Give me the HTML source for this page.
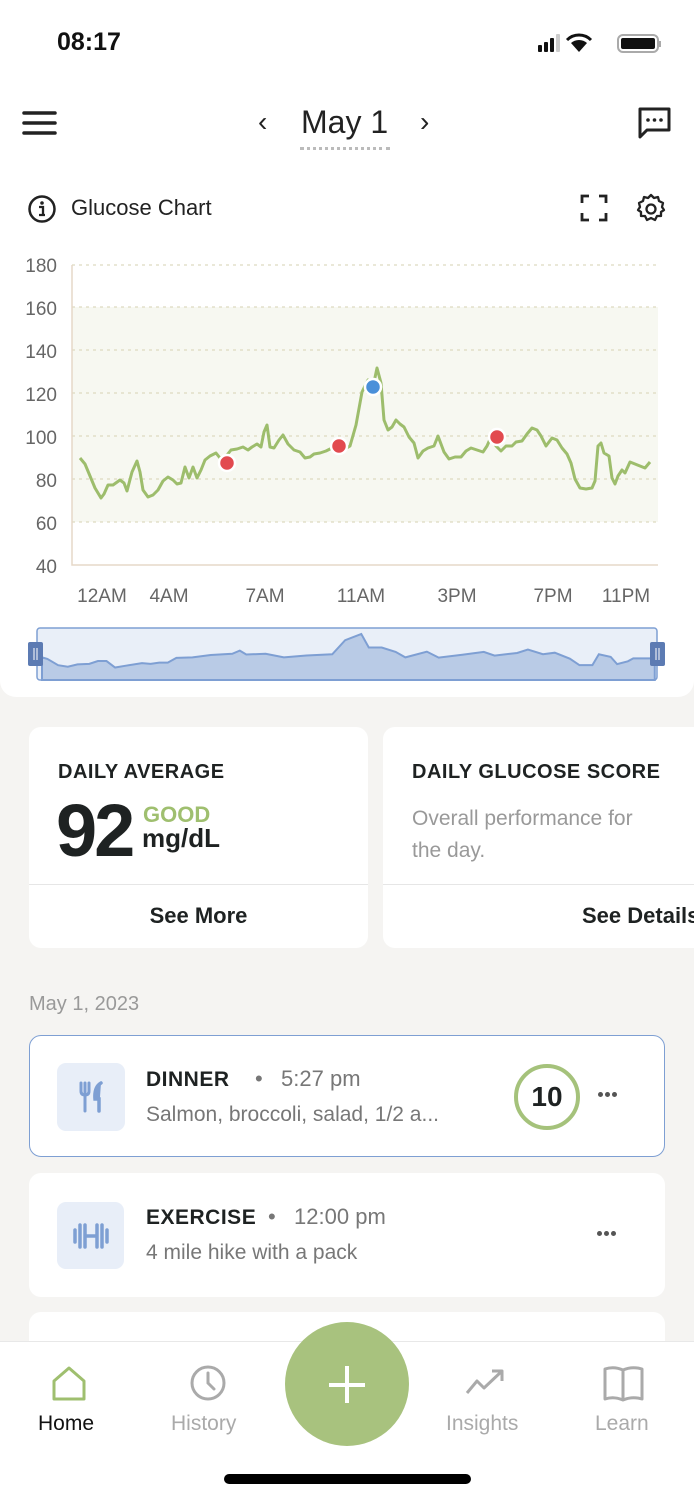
<!DOCTYPE html>
<html><head><meta charset="utf-8"><style>
*{margin:0;padding:0;box-sizing:border-box}
body{width:694px;height:1500px;background:#f5f4f2;font-family:"Liberation Sans",sans-serif;position:relative;overflow:hidden;color:#1e2222}
.a{position:absolute}
.card{position:absolute;background:#fff;border-radius:12px}
.dots{position:absolute;width:22px;height:6px}
.dots i{position:absolute;top:0;width:5px;height:5px;border-radius:50%;background:#555}
</style></head><body>
<div class="a" style="left:0;top:0;width:694px;height:697px;background:#fff;border-radius:0 0 16px 16px"></div>
<div class="a" style="left:57px;top:28px;font-size:25px;font-weight:bold;color:#111">08:17</div>
<svg class="a" style="left:536px;top:32px" width="128" height="24">
<rect x="2" y="13" width="4" height="7" rx="1" fill="#111"/><rect x="8" y="10" width="4" height="10" rx="1" fill="#111"/><rect x="14" y="6" width="4" height="14" rx="1" fill="#111"/><rect x="20" y="2" width="4" height="18" rx="1" fill="#ccc"/>
<path d="M43 20 L35 11 A12 12 0 0 1 51 11 Z" fill="#111"/><path d="M31 8 A17 17 0 0 1 55 8" stroke="#111" stroke-width="3" fill="none"/>
<rect x="82" y="3" width="40" height="17" rx="5" fill="none" stroke="#aaa" stroke-width="2"/><rect x="85" y="6" width="34" height="11" rx="2" fill="#111"/><rect x="123" y="9" width="2" height="6" fill="#aaa"/>
</svg>
<svg class="a" style="left:22px;top:110px" width="36" height="26"><path d="M2 3H33M2 13H33M2 23H33" stroke="#222" stroke-width="3.5" stroke-linecap="round"/></svg>
<div class="a" style="left:258px;top:106px;font-size:28px;color:#222">‹</div>
<div class="a" style="left:301px;top:104px;font-size:32px;color:#222">May 1</div>
<div class="a" style="left:300px;top:147px;width:90px;border-top:3px dotted #bbb"></div>
<div class="a" style="left:420px;top:106px;font-size:28px;color:#222">›</div>
<svg class="a" style="left:637px;top:106px" width="36" height="34"><path d="M3 3H32V24H10L3 31Z" fill="none" stroke="#222" stroke-width="3" stroke-linejoin="round"/><circle cx="11" cy="14" r="1.8" fill="#222"/><circle cx="17.5" cy="14" r="1.8" fill="#222"/><circle cx="24" cy="14" r="1.8" fill="#222"/></svg>
<svg class="a" style="left:27px;top:195px" width="30" height="30"><circle cx="15" cy="14" r="12.5" fill="none" stroke="#222" stroke-width="2.5"/><circle cx="15" cy="8" r="1.8" fill="#222"/><path d="M12 12H16V20M12 20H18" stroke="#222" stroke-width="2.3" fill="none"/></svg>
<div class="a" style="left:71px;top:195px;font-size:22px;color:#222">Glucose Chart</div>
<svg class="a" style="left:580px;top:194px" width="28" height="28"><path d="M2 9V2H9M19 2H26V9M26 19V26H19M9 26H2V19" stroke="#222" stroke-width="2.8" fill="none"/></svg>
<svg class="a" style="left:636px;top:193px" width="30" height="30"><path d="M15 2l3 3 4-1 1 4 4 2-1 4 2 3-3 2 0 4-4 0-2 4-4-2-4 2-2-4-4 0 0-4-3-2 2-3-1-4 4-2 1-4 4 1z" fill="none" stroke="#222" stroke-width="2.3" stroke-linejoin="round"/><circle cx="15" cy="16" r="4.5" fill="none" stroke="#222" stroke-width="2.3"/></svg>

<svg class="a" style="left:0;top:0" width="694" height="700" font-family="Liberation Sans, sans-serif">
<rect x="72" y="307" width="586" height="215" fill="#f7f8f1"/>
<g stroke="#ddd9c0" stroke-width="1.3" stroke-dasharray="3 4">
<line x1="72" y1="265" x2="658" y2="265"/><line x1="72" y1="307" x2="658" y2="307"/><line x1="72" y1="350" x2="658" y2="350"/><line x1="72" y1="393" x2="658" y2="393"/><line x1="72" y1="436" x2="658" y2="436"/><line x1="72" y1="479" x2="658" y2="479"/><line x1="72" y1="522" x2="658" y2="522"/>
</g>
<path d="M72 265V565H658" stroke="#e6d8c8" stroke-width="1.5" fill="none"/>
<g fill="#666" font-size="19" text-anchor="end">
<text x="57" y="272">180</text><text x="57" y="315">160</text><text x="57" y="358">140</text><text x="57" y="401">120</text><text x="57" y="444">100</text><text x="57" y="487">80</text><text x="57" y="530">60</text><text x="57" y="573">40</text>
</g>
<g fill="#666" font-size="19" text-anchor="middle">
<text x="102" y="602">12AM</text><text x="169" y="602">4AM</text><text x="265" y="602">7AM</text><text x="361" y="602">11AM</text><text x="457" y="602">3PM</text><text x="553" y="602">7PM</text><text x="626" y="602">11PM</text>
</g>
<defs><path id="ser" d="M80 458L85 464L90 476L95 488L101 498L104 494L108 485L113 485L120 480L124 483L127 491L132 472L137 461L140 472L143 490L148 497L153 495L158 490L163 481L168 477L173 480L177 484L181 483L185 467L189 478L193 467L197 478L201 470L205 460L210 456L216 453L220 458L227 455L231 450L237 449L243 447L248 450L252 447L257 444L261 447L264 432L267 425L270 447L274 448L279 440L283 435L288 444L294 450L300 452L305 458L310 457L314 454L320 453L326 451L332 448L339 446L345 449L350 446L356 425L362 392L368 380L373 387L377 368L381 383L384 420L388 430L392 427L396 420L400 424L404 427L409 437L414 443L418 458L423 451L428 448L434 446L438 436L444 452L449 459L455 457L461 457L466 451L471 448L477 450L483 452L487 446L491 437L496 446L501 451L506 446L512 446L516 442L522 441L527 434L532 428L537 430L541 436L546 446L552 438L557 440L562 448L567 454L571 463L575 479L580 488L586 489L592 488L595 481L598 446L601 443L604 453L609 456L612 478L615 484L618 476L622 470L625 473L630 462L635 464L640 466L645 468L650 462"/></defs>
<use href="#ser" fill="none" stroke="#9dbd6c" stroke-width="3" stroke-linejoin="round"/>
<g stroke="#fff" stroke-width="2.5">
<circle cx="227" cy="463" r="8" fill="#e24a4f"/><circle cx="339" cy="446" r="8" fill="#e24a4f"/><circle cx="497" cy="437" r="8" fill="#e24a4f"/><circle cx="373" cy="387" r="8" fill="#4a90d9"/>
</g>
<rect x="37" y="628" width="620" height="52" rx="3" fill="#e9eff8" stroke="#7e9fd3" stroke-width="1.5"/>
<g transform="matrix(1.075 0 0 0.26 -44 538.3)">
<path d="M80 545L80 458L85 464L95 488L104 494L113 485L124 483L132 472L140 472L148 497L158 490L173 480L181 483L189 478L197 478L205 460L220 458L237 449L257 444L264 432L270 447L288 444L305 458L326 451L350 446L362 392L377 368L384 420L396 420L409 437L418 458L438 436L449 459L471 448L491 437L501 451L522 441L532 428L546 446L557 440L571 463L580 488L592 488L598 446L609 456L615 484L625 473L630 462L650 462L650 545Z" fill="#b9cbe6" stroke="#7e9fd3" stroke-width="2" vector-effect="non-scaling-stroke"/>
</g>
<rect x="28" y="642" width="15" height="24" rx="2" fill="#5c7bb3"/><rect x="650" y="642" width="15" height="24" rx="2" fill="#5c7bb3"/>
<path d="M34 648V660M37 648V660M656 648V660M659 648V660" stroke="#fff" stroke-width="1"/>
</svg>

<div class="card" style="left:29px;top:727px;width:339px;height:221px">
<div class="a" style="left:29px;top:34px;font-size:20px;font-weight:bold;letter-spacing:0.5px">DAILY AVERAGE</div>
<div class="a" style="left:27px;top:61px;font-size:74px;font-weight:bold;letter-spacing:-3px">92</div>
<div class="a" style="left:114px;top:75px;font-size:22px;font-weight:bold;color:#9fbf6f">GOOD</div>
<div class="a" style="left:113px;top:96px;font-size:26px;font-weight:bold">mg/dL</div>
<div class="a" style="left:0;top:157px;width:339px;border-top:1px solid #e6e6e6"></div>
<div class="a" style="left:0;top:176px;width:339px;text-align:center;font-size:22px;font-weight:bold">See More</div>
</div>
<div class="card" style="left:383px;top:727px;width:340px;height:221px">
<div class="a" style="left:29px;top:34px;font-size:20px;font-weight:bold;letter-spacing:0.5px;white-space:nowrap">DAILY GLUCOSE SCORE</div>
<div class="a" style="left:29px;top:76px;font-size:21px;color:#999;line-height:32px;width:250px">Overall performance for the day.</div>
<div class="a" style="left:0;top:157px;width:340px;border-top:1px solid #e6e6e6"></div>
<div class="a" style="left:199px;top:176px;font-size:22px;font-weight:bold;white-space:nowrap">See Details</div>
</div>
<div class="a" style="left:29px;top:993px;font-size:20px;color:#999">May 1, 2023</div>

<div class="card" style="left:29px;top:1035px;width:636px;height:122px;border:1.5px solid #7e9fd3">
<div class="a" style="left:27px;top:27px;width:68px;height:68px;border-radius:9px;background:#e8eef8"></div>
<svg class="a" style="left:48px;top:45px" width="28" height="32"><path d="M3 2V10Q3 14 7 14V30M7 2V12M11 2V10Q11 14 7 14" stroke="#7e9fd3" stroke-width="3" fill="none" stroke-linecap="round"/><path d="M23 2Q16 6 17 18H21V30" stroke="#7e9fd3" stroke-width="3.5" fill="#7e9fd3" stroke-linecap="round"/></svg>
<div class="a" style="left:116px;top:32px;font-size:21px;font-weight:bold;letter-spacing:0.5px">DINNER</div>
<div class="a" style="left:225px;top:30px;font-size:22px;color:#777">•&nbsp;&nbsp;&nbsp;5:27 pm</div>
<div class="a" style="left:116px;top:67px;font-size:21px;color:#777">Salmon, broccoli, salad, 1/2 a...</div>
<div class="a" style="left:484px;top:28px;width:66px;height:66px;border-radius:50%;border:4px solid #a5c27b;text-align:center;line-height:58px;font-size:28px;font-weight:bold">10</div>
<div class="dots" style="left:568px;top:56px"><i style="left:0"></i><i style="left:7px"></i><i style="left:14px"></i></div>
</div>
<div class="card" style="left:29px;top:1173px;width:636px;height:124px">
<div class="a" style="left:28px;top:29px;width:67px;height:67px;border-radius:9px;background:#e8eef8"></div>
<svg class="a" style="left:43px;top:47px" width="38" height="32"><path d="M3 10V22M8 5V27M13 5V27M25 5V27M30 5V27M35 10V22M13 16H25" stroke="#7e9fd3" stroke-width="3.5" stroke-linecap="round"/></svg>
<div class="a" style="left:117px;top:33px;font-size:21px;font-weight:bold;letter-spacing:0.5px">EXERCISE</div>
<div class="a" style="left:239px;top:31px;font-size:22px;color:#777">•&nbsp;&nbsp;&nbsp;12:00 pm</div>
<div class="a" style="left:117px;top:68px;font-size:21px;color:#777">4 mile hike with a pack</div>
<div class="dots" style="left:568px;top:58px"><i style="left:0"></i><i style="left:7px"></i><i style="left:14px"></i></div>
</div>
<div class="card" style="left:29px;top:1312px;width:636px;height:100px"></div>

<div class="a" style="left:0;top:1341px;width:694px;height:159px;background:#fff;border-top:1.5px solid #e8e8e8"></div>
<svg class="a" style="left:50px;top:1365px" width="40" height="38"><path d="M4 16L19 3L34 16V34H4Z" fill="none" stroke="#9fbf6f" stroke-width="3" stroke-linejoin="round"/></svg>
<div class="a" style="left:38px;top:1412px;font-size:21px;color:#111">Home</div>
<svg class="a" style="left:189px;top:1364px" width="40" height="40"><circle cx="19" cy="19" r="16" fill="none" stroke="#aaa" stroke-width="3"/><path d="M19 9V19L25 25" stroke="#aaa" stroke-width="3" fill="none" stroke-linecap="round"/></svg>
<div class="a" style="left:171px;top:1412px;font-size:21px;color:#aaa">History</div>
<div class="a" style="left:285px;top:1322px;width:124px;height:124px;border-radius:50%;background:#a8c27e"></div>
<div class="a" style="left:329px;top:1383px;width:36px;height:4px;background:#fff"></div>
<div class="a" style="left:345px;top:1366px;width:4px;height:37px;background:#fff"></div>
<svg class="a" style="left:464px;top:1367px" width="44" height="30"><path d="M3 26L13 14L20 21L38 4M28 4H38V14" stroke="#aaa" stroke-width="3" fill="none" stroke-linejoin="round"/></svg>
<div class="a" style="left:446px;top:1412px;font-size:21px;color:#aaa">Insights</div>
<svg class="a" style="left:602px;top:1364px" width="44" height="40"><path d="M3 5Q12 2 21 6V36Q12 32 3 35ZM21 6Q30 2 40 5V35Q30 32 21 36" fill="none" stroke="#aaa" stroke-width="3" stroke-linejoin="round"/></svg>
<div class="a" style="left:595px;top:1412px;font-size:21px;color:#aaa">Learn</div>
<div class="a" style="left:224px;top:1474px;width:247px;height:10px;border-radius:5px;background:#000"></div>
</body></html>
